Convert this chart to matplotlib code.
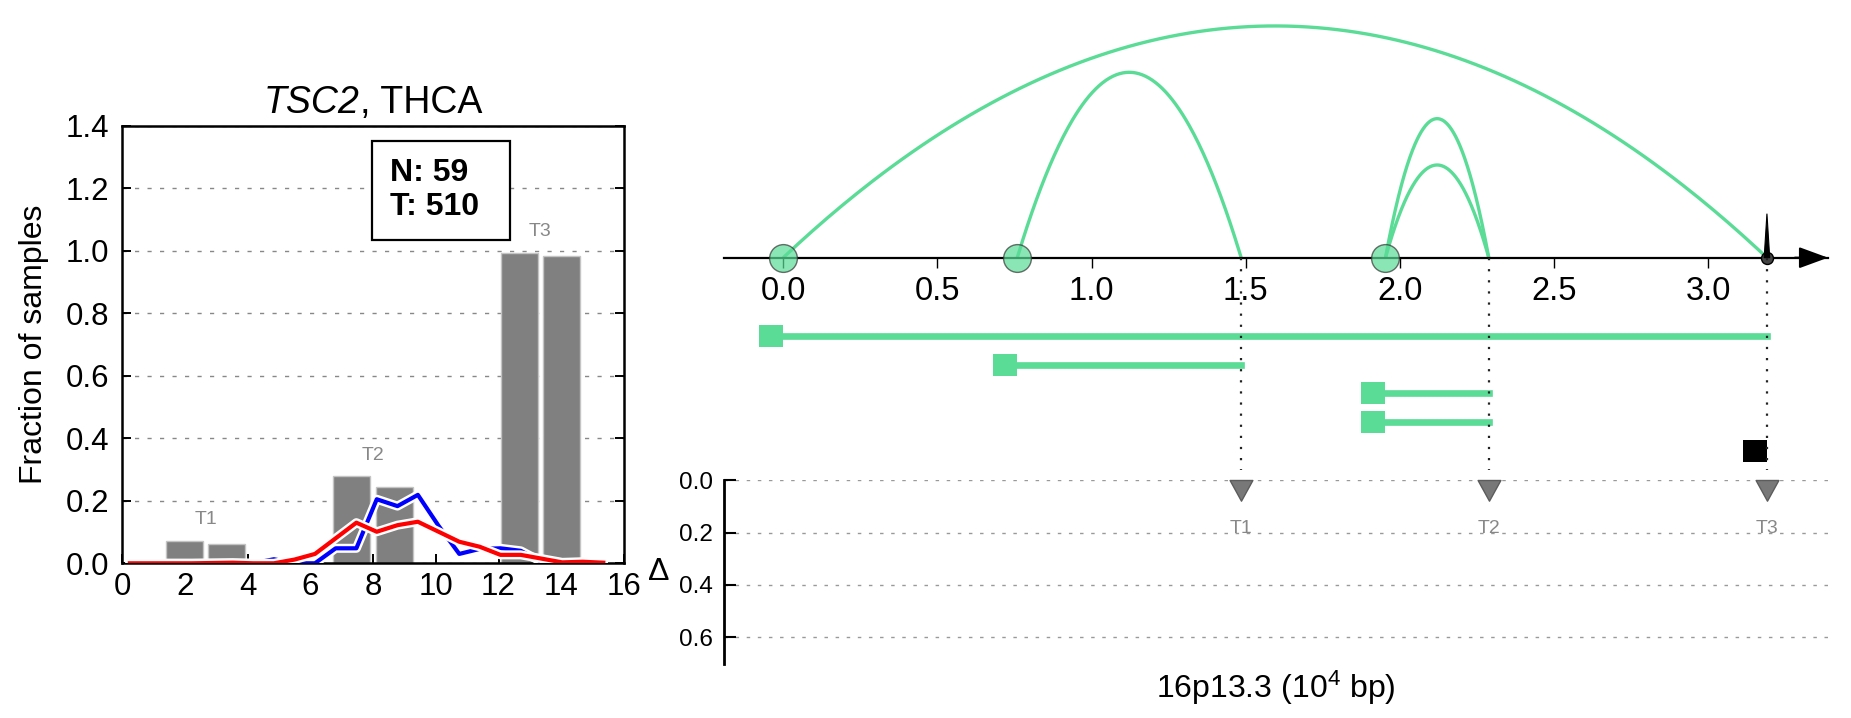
import numpy as np
import matplotlib
matplotlib.use('Agg')
import matplotlib.pyplot as plt
import matplotlib.patheffects as pe
from matplotlib.path import Path
from matplotlib.patches import Rectangle
from matplotlib.transforms import blended_transform_factory
from matplotlib.offsetbox import TextArea, HPacker, AnchoredOffsetbox

plt.rcParams['font.family'] = ['Liberation Sans', 'DejaVu Sans']
plt.rcParams['mathtext.fontset'] = 'custom'
plt.rcParams['mathtext.rm'] = 'Liberation Sans'
plt.rcParams['mathtext.it'] = 'Liberation Sans:italic'
plt.rcParams['mathtext.bf'] = 'Liberation Sans:bold'

# ---------------- left panel data ----------------
gene = 'TSC2'
cancer = 'THCA'
n_normal = 59
n_tumor = 510
bin_x = [0.25, 0.91, 1.56, 2.22, 2.87, 3.53, 4.18, 4.84, 5.50, 6.15, 6.81, 7.47,
         8.12, 8.78, 9.43, 10.09, 10.75, 11.40, 12.06, 12.71, 13.37, 14.03, 14.68, 15.34]
blue_frac = [0, 0, 0, 0, 0, 0, 0, 0.013, 0, 0, 0.048, 0.048,
             0.205, 0.183, 0.219, 0.12, 0.030, 0.046, 0.048, 0.040, 0.005, 0, 0, 0]
red_frac = [0, 0, 0, 0, 0.001, 0.002, 0, 0, 0.012, 0.030, 0.080, 0.130,
            0.101, 0.122, 0.133, 0.101, 0.069, 0.053, 0.027, 0.027, 0.015, 0.003, 0.005, 0.002]
bar_x = [2.0, 3.33, 7.33, 8.67, 12.67, 14.0]
bar_h = [0.072, 0.062, 0.278, 0.243, 0.993, 0.984]
bar_group = ['T1', 'T1', 'T2', 'T2', 'T3', 'T3']
tad_labels = ['T1', 'T2', 'T3']

# ---------------- right panel data ----------------
band = '16p13.3'
arc_start = [0.0, 0.759, 1.953, 1.953]
arc_end = [3.19, 1.485, 2.288, 2.288]
arc_height = [1.0, 0.8, 0.6, 0.4]
bp_green = [0.0, 0.759, 1.953]
bp_black = [3.19]
spike_height = [0.19]
seg_start = [0.0, 0.759, 1.953, 1.953, 3.19]
seg_end = [3.19, 1.485, 2.288, 2.288, 3.19]
seg_kind = ['g', 'g', 'g', 'g', 'k']
tad_pos = [1.485, 2.288, 3.19]
tad_delta = [0.0, 0.0, 0.0]
top_ticks = [0.0, 0.5, 1.0, 1.5, 2.0, 2.5, 3.0]
delta_ticks = [0.0, 0.2, 0.4, 0.6]

GREEN = '#5ADC96'
W, H = 1851, 718
fig = plt.figure(figsize=(W / 100, H / 100), dpi=100)
fig.patch.set_facecolor('white')

def fx(px):
    return px / W

def fy(px):
    return (H - px) / H

# ================= LEFT PANEL =================
ax1 = fig.add_axes([fx(122), fy(563.3), 502 / W, 437.5 / H])
ax1.bar(bar_x, bar_h, width=1.18, color='#808080', edgecolor='#c4c4c4', lw=1, zorder=2)
stroke = [pe.Stroke(linewidth=6.5, foreground='white'), pe.Normal()]
ax1.plot(bin_x, blue_frac, color='#0000FF', lw=3.0, zorder=3, path_effects=stroke)
ax1.plot(bin_x, red_frac, color='#FF0000', lw=3.0, zorder=4, path_effects=stroke)
for lab in tad_labels:
    xs = [bx for bx, g in zip(bar_x, bar_group) if g == lab]
    hs = [bh for bh, g in zip(bar_h, bar_group) if g == lab]
    ax1.text(np.mean(xs), max(hs) + 0.04, lab, color='#888888', fontsize=14,
             ha='center', va='bottom', zorder=5)
ax1.set_xlim(0, 16)
ax1.set_ylim(0, 1.4)
ax1.set_xticks(range(0, 17, 2))
ax1.set_yticks(np.arange(0, 1.41, 0.2))
ax1.set_yticklabels(['%.1f' % v for v in np.arange(0, 1.41, 0.2)])
ax1.yaxis.grid(True, ls=(0, (3, 6)), color='#888888', lw=1)
ax1.set_axisbelow(True)
ax1.tick_params(direction='in', length=6.7, width=1.4, labelsize=22.5, pad=9)
ax1.tick_params(axis='y', left=True, right=True)
ax1.tick_params(axis='x', top=False, pad=6)
for s in ax1.spines.values():
    s.set_linewidth(1.8)
ax1.set_ylabel('Fraction of samples', fontsize=23, labelpad=12)

# title: italic gene + regular cancer
t_gene = TextArea(gene, textprops=dict(fontsize=27, style='italic'))
t_rest = TextArea(', ' + cancer, textprops=dict(fontsize=27))
title_box = HPacker(children=[t_gene, t_rest], align='baseline', pad=0, sep=0)
ax1.add_artist(AnchoredOffsetbox(loc='lower center', child=title_box, pad=0, borderpad=0,
                                 frameon=False, bbox_to_anchor=(0.5, 1.012),
                                 bbox_transform=ax1.transAxes))

# N / T box
ax1.add_patch(Rectangle((0.499, 0.739), 0.273, 0.226, transform=ax1.transAxes,
                        fc='white', ec='black', lw=1.6, zorder=6))
ax1.text(0.533, 0.8727, 'N: %d' % n_normal, transform=ax1.transAxes, fontsize=23,
         fontweight='bold', ha='left', va='baseline', zorder=7)
ax1.text(0.533, 0.7966, 'T: %d' % n_tumor, transform=ax1.transAxes, fontsize=23,
         fontweight='bold', ha='left', va='baseline', zorder=7)

# ================= RIGHT TOP PANEL =================
xlim = (-0.192, 3.388)
ax2 = fig.add_axes([fx(724), fy(479), 1104 / W, 479 / H])
ax2.set_xlim(*xlim)
ax2.set_ylim(-0.955, 1.112)
for k in ['left', 'right', 'top']:
    ax2.spines[k].set_visible(False)
ax2.spines['bottom'].set_position(('data', 0))
ax2.spines['bottom'].set_linewidth(1.6)
ax2.set_yticks([])
ax2.set_xticks(top_ticks)
ax2.set_xticklabels(['%.1f' % t for t in top_ticks])
ax2.tick_params(axis='x', direction='out', length=7.5, width=1, labelsize=23.5, pad=6)
ax2.patch.set_alpha(0)

trans = blended_transform_factory(ax2.transAxes, ax2.transData)
ax2.annotate('', xy=(1.0, 0), xytext=(0.97, 0), xycoords=trans, textcoords=trans,
             annotation_clip=False,
             arrowprops=dict(arrowstyle='-|>,head_length=0.9,head_width=0.33',
                             mutation_scale=20, color='black', lw=1.5,
                             shrinkA=0, shrinkB=0))

# arcs (parabolic)
for s, e, h in zip(arc_start, arc_end, arc_height):
    xx = np.linspace(s, e, 200)
    c, w = (s + e) / 2, (e - s) / 2
    ax2.plot(xx, h * (1 - ((xx - c) / w) ** 2), color=GREEN, lw=2.4, zorder=2,
             solid_capstyle='butt')

ax2.scatter(bp_green, [0] * len(bp_green), s=400, color=GREEN, alpha=0.7,
            edgecolor='#333333', linewidth=1, zorder=4)
ax2.scatter(bp_black, [0] * len(bp_black), s=74, color='#444444',
            edgecolor='black', linewidth=1, zorder=5)
for p, h in zip(bp_black, spike_height):
    ax2.fill([p - 0.009, p + 0.009, p], [0, 0, h], color='black', zorder=5, lw=0.8)

# dotted drop lines to TAD boundaries
for p in tad_pos:
    ax2.plot([p, p], [0, -0.916], color='#222222', lw=1.6, ls=(0, (1, 4)), zorder=6)

# segment rows
sq = Path([(-1, -0.47), (0, -0.47), (0, 0.47), (-1, 0.47), (-1, -0.47)], closed=True)
row_y0, row_step = -0.337, 0.1243
for i, (s, e, kind) in enumerate(zip(seg_start, seg_end, seg_kind)):
    col = GREEN if kind == 'g' else 'black'
    y = row_y0 - i * row_step
    ax2.plot([s, e], [y, y], color=col, lw=4.8, solid_capstyle='projecting', zorder=3)
    ax2.plot([s], [y], marker=sq, ms=34.6, color=col, mew=0, ls='none', zorder=3)

# ================= RIGHT BOTTOM PANEL =================
ax3 = fig.add_axes([fx(724), fy(664.3), 1104 / W, 184 / H])
ax3.set_xlim(*xlim)
ax3.set_ylim(0.704, 0.0)
for k in ['right', 'top', 'bottom']:
    ax3.spines[k].set_visible(False)
ax3.spines['left'].set_linewidth(2)
ax3.set_xticks([])
ax3.set_yticks(delta_ticks)
ax3.set_yticklabels(['%.1f' % t for t in delta_ticks])
ax3.tick_params(axis='y', direction='in', length=8.9, width=1.5, labelsize=17.5, pad=8)
ax3.yaxis.grid(True, ls=(0, (2.5, 5.5)), color='#999999', lw=1)
ax3.set_axisbelow(True)
ax3.patch.set_alpha(0)
ax3.set_ylabel('Δ', rotation=0, fontsize=23, labelpad=7, ha='right', va='center')
ax3.set_xlabel(band + r' (10$^4$ bp)', fontsize=23, labelpad=3)

tri = Path([(-0.55, 0), (0.55, 0), (0, -1), (-0.55, 0)], closed=True)
ax3.plot(tad_pos, tad_delta, ls='none', marker=tri, ms=29.8, mfc='#787878',
         mec='#5c5c5c', mew=1, clip_on=False, zorder=4)
for p, lab in zip(tad_pos, tad_labels):
    ax3.text(p, 0.185, lab, color='#888888', fontsize=14, ha='center', va='center', zorder=5)

fig.savefig('out.png', dpi=100, facecolor='white')
